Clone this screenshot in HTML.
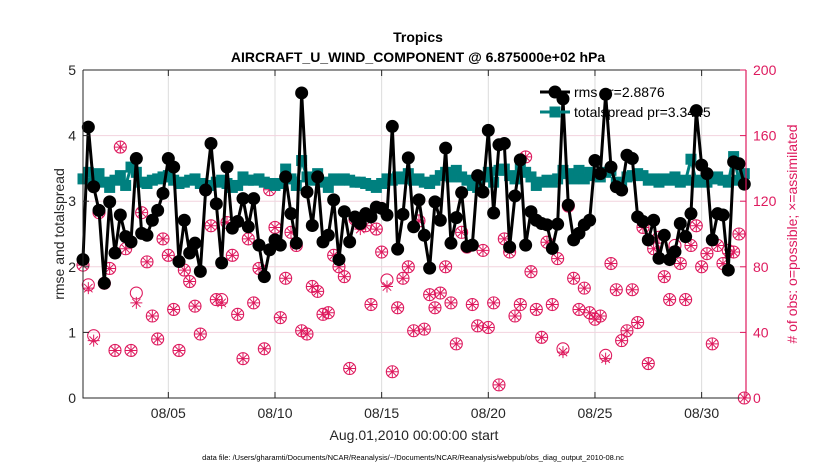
<!DOCTYPE html>
<html><head><meta charset="utf-8"><style>
body{margin:0;background:#fff;}
svg{display:block;font-family:"Liberation Sans",sans-serif;}
</style></head><body>
<svg id="c" width="830" height="470" viewBox="0 0 830 470"></svg>
<script>
const rms=[2.11,4.13,3.22,2.86,1.75,2.99,2.21,2.79,2.46,2.38,3.65,2.51,2.48,2.71,2.86,3.12,3.65,3.52,2.08,2.71,2.21,2.36,1.93,3.17,3.88,2.96,2.06,3.52,2.59,2.69,3.04,2.61,
3.04,2.33,1.85,2.26,2.41,2.33,3.37,2.81,2.36,4.65,3.14,2.63,3.37,2.38,2.48,3.02,2.11,2.84,2.38,2.76,2.66,2.81,2.76,2.91,2.89,2.79,4.14,2.27,2.80,3.66,2.61,3.02,
2.48,1.98,2.99,2.71,3.81,2.36,2.75,3.13,2.31,2.33,3.39,3.14,4.08,2.82,3.86,3.88,2.30,3.08,3.63,2.33,2.84,2.71,2.66,2.64,2.28,2.65,4.56,2.94,2.41,2.51,2.64,
2.71,3.62,3.42,4.63,3.52,3.22,3.17,3.70,3.65,2.76,2.69,2.41,2.71,2.13,2.48,2.11,2.23,2.66,2.46,2.81,4.38,3.55,3.42,2.41,2.81,2.79,1.95,3.60,3.57,3.26];
const spread=[3.34,3.44,3.27,3.42,3.29,3.21,3.32,3.39,3.24,3.52,3.44,3.29,3.27,3.32,3.34,3.37,3.39,3.32,3.27,3.29,3.32,3.34,3.27,3.21,3.24,3.29,3.32,3.27,3.21,3.24,3.37,3.32,
3.32,3.34,3.29,3.27,3.24,3.27,3.49,3.34,3.24,3.62,3.37,3.32,3.42,3.29,3.21,3.34,3.32,3.34,3.32,3.29,3.29,3.27,3.24,3.21,3.27,3.34,3.32,3.37,3.34,3.42,3.32,3.34,
3.29,3.27,3.32,3.39,3.44,3.37,3.47,3.37,3.32,3.24,3.21,3.37,3.44,3.29,3.47,3.49,3.39,3.34,3.49,3.44,3.37,3.24,3.29,3.32,3.29,3.34,3.47,3.42,3.34,3.47,3.34,
3.44,3.39,3.37,3.44,3.47,3.29,3.24,3.37,3.39,3.42,3.39,3.32,3.34,3.29,3.34,3.32,3.37,3.29,3.32,3.64,3.29,3.32,3.29,3.34,3.37,3.32,3.29,3.68,3.32,3.42];
const nposs=[81,69,38,113,70,79,29,153,91,29,64,113,83,50,36,97,87,54,29,78,71,56,39,127,105,60,60,107,87,51,24,97,
58,79,30,127,104,49,73,101,93,41,39,68,65,51,52,87,80,74,18,109,106,105,57,103,89,72,16,55,73,80,41,108,
42,63,55,64,80,58,33,101,92,57,44,90,43,58,8,97,89,50,57,147,77,54,37,95,57,85,30,117,73,54,67,
52,48,50,26,82,66,35,41,66,46,104,21,91,98,74,60,93,82,60,93,105,80,88,33,93,82,90,89,100,0];
const nassim=[81,67,35,113,70,79,29,153,91,29,58,113,83,50,36,97,87,54,29,78,71,56,39,127,105,60,58,107,87,51,24,97,
58,79,30,127,104,49,73,101,93,41,39,68,65,51,52,87,80,74,18,109,103,105,57,103,89,68,16,55,73,80,41,108,
42,63,55,64,80,58,33,101,92,57,44,90,43,58,8,97,89,50,57,147,77,54,37,95,57,85,28,117,73,54,67,
52,48,50,24,82,66,35,41,66,46,104,21,91,98,74,60,90,82,60,93,105,80,88,33,93,82,88,89,100,0];
const xTicks=["08/05","08/10","08/15","08/20","08/25","08/30"];
const xTickDays=[4,9,14,19,24,29];
const yTicks=[0,1,2,3,4,5];
const y2Ticks=[0,40,80,120,160,200];

const NS="http://www.w3.org/2000/svg";
const svg=document.getElementById('c');
const L=83,R=746,T=70,B=398;
const DAYS=31.08;
const xs=d=>L+(R-L)*d/DAYS;
const ys=v=>B-(B-T)*v/5;
const ys2=v=>B-(B-T)*v/200;
const PINK="#de1a5e",TEAL="#00807f";
function el(t,a,p){const e=document.createElementNS(NS,t);for(const k in a)e.setAttribute(k,a[k]);(p||svg).appendChild(e);return e;}

// grid
const grid=el('g',{});


xTickDays.forEach(d=>el('line',{x1:xs(d),x2:xs(d),y1:T,y2:B,stroke:'#dcdcdc','stroke-width':1},grid));
y2Ticks.forEach(v=>{if(v>0&&v<200)el('line',{x1:L,x2:R,y1:ys2(v),y2:ys2(v),stroke:'#f2d3de','stroke-width':1},grid);});

// obs series
const obs=el('g',{});


nposs.forEach((n,i)=>{const x=xs(i/4);
 const c=el('circle',{cx:x,cy:ys2(n),r:6,fill:'none',stroke:PINK,'stroke-width':1.1},obs);
 
 
 const y=ys2(nassim[i]);
 const s=el('path',{d:`M${x-6} ${y}H${x+6}M${x} ${y-6}V${y+6}M${x-4.2} ${y-4.2}L${x+4.2} ${y+4.2}M${x-4.2} ${y+4.2}L${x+4.2} ${y-4.2}`,stroke:PINK,'stroke-width':1},obs);
 
 
});

// spread
const sp=el('g',{});


el('polyline',{points:spread.map((v,i)=>xs(i/4)+','+ys(v)).join(' '),fill:'none',stroke:TEAL,'stroke-width':3},sp);
spread.forEach((v,i)=>{const r=el('rect',{x:xs(i/4)-5.5,y:ys(v)-5.5,width:11,height:11,fill:TEAL},sp);
 
 });

// rms
const rm=el('g',{});


el('polyline',{points:rms.map((v,i)=>xs(i/4)+','+ys(v)).join(' '),fill:'none',stroke:'#000','stroke-width':3},rm);
rms.forEach((v,i)=>{const c=el('circle',{cx:xs(i/4),cy:ys(v),r:6.5,fill:'#000'},rm);
 
 });

// axes
el('path',{d:`M${L} ${T}V${B}H${R}`,fill:'none',stroke:'#262626','stroke-width':1});
el('line',{x1:L,x2:R,y1:T,y2:T,stroke:'#262626','stroke-width':1});
el('line',{x1:R,x2:R,y1:T,y2:B,stroke:PINK,'stroke-width':1.2});
const xa=el('g',{});


xTicks.forEach((t,i)=>{const x=xs(xTickDays[i]);
 el('line',{x1:x,x2:x,y1:B,y2:B-6,stroke:'#262626'},xa);el('line',{x1:x,x2:x,y1:T,y2:T+6,stroke:'#262626'},xa);
 const tx=el('text',{x:x,y:418,'text-anchor':'middle','font-size':14,fill:'#262626'},xa);tx.textContent=t;
 
 });
const ya=el('g',{});


yTicks.forEach(v=>{const y=ys(v);el('line',{x1:L,x2:L+6,y1:y,y2:y,stroke:'#262626'},ya);
 const tx=el('text',{x:76,y:y+5,'text-anchor':'end','font-size':14,fill:'#262626'},ya);tx.textContent=v;
 
 });
const y2=el('g',{});


y2Ticks.forEach(v=>{const y=ys2(v);el('line',{x1:R,x2:R-6,y1:y,y2:y,stroke:PINK},y2);
 const tx=el('text',{x:753,y:y+5,'font-size':14,fill:PINK},y2);tx.textContent=v;
 
 });
</script>
<svg width="830" height="470" style="position:absolute;left:0;top:0" font-family="Liberation Sans, sans-serif">
<text x="418" y="42" text-anchor="middle" font-size="14" font-weight="bold" fill="#000">Tropics</text>
<text x="418" y="62" text-anchor="middle" font-size="14" font-weight="bold" fill="#000">AIRCRAFT_U_WIND_COMPONENT @ 6.875000e+02 hPa</text>
<text transform="translate(64,234) rotate(-90)" text-anchor="middle" font-size="14" fill="#262626">rmse and totalspread</text>
<text transform="translate(797,234) rotate(-90)" text-anchor="middle" font-size="14" fill="#de1a5e"># of obs: o=possible; ×=assimilated</text>
<text x="414" y="440" text-anchor="middle" font-size="14" fill="#262626">Aug.01,2010 00:00:00 start</text>
<text x="413" y="460" text-anchor="middle" font-size="7.5" fill="#000">data file: /Users/gharamti/Documents/NCAR/Reanalysis/~/Documents/NCAR/Reanalysis/webpub/obs_diag_output_2010-08.nc</text>
<g>
<line x1="540" x2="570" y1="92" y2="92" stroke="#000" stroke-width="3"/>
<circle cx="555" cy="92" r="6.5" fill="#000"/>
<text x="574" y="97" font-size="14" fill="#000">rms pr=2.8876</text>
<line x1="540" x2="570" y1="112" y2="112" stroke="#00807f" stroke-width="3"/>
<rect x="549.5" y="106.5" width="11" height="11" fill="#00807f"/>
<text x="574" y="117" font-size="14" fill="#000">totalspread pr=3.3445</text>
</g>
</svg>
</body></html>
